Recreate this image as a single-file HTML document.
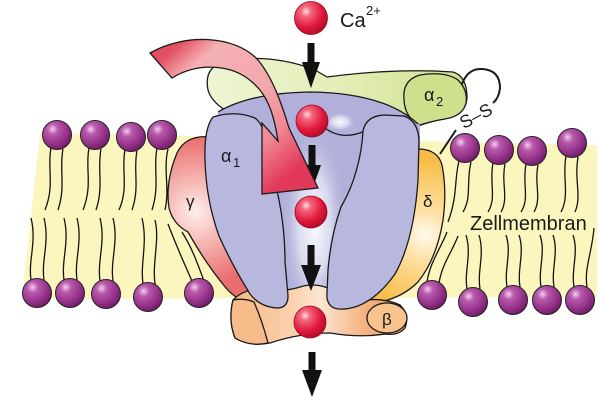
<!DOCTYPE html>
<html><head><meta charset="utf-8"><style>
html,body{margin:0;padding:0;background:#fff;width:600px;height:400px;overflow:hidden}
svg{display:block}
text{font-family:"Liberation Sans",sans-serif;fill:#1a1a1a}
</style></head><body>
<svg width="600" height="400" viewBox="0 0 600 400" xmlns="http://www.w3.org/2000/svg">
<defs>
<radialGradient id="hd" cx=".35" cy=".3" r=".75"><stop offset="0" stop-color="#f3cdef"/><stop offset=".25" stop-color="#b85aac"/><stop offset=".75" stop-color="#8e2b82"/><stop offset="1" stop-color="#6c1b63"/></radialGradient>
<radialGradient id="ca" cx=".35" cy=".3" r=".75"><stop offset="0" stop-color="#ffe0e5"/><stop offset=".2" stop-color="#f4687e"/><stop offset=".65" stop-color="#e0183c"/><stop offset="1" stop-color="#b00c28"/></radialGradient>
<linearGradient id="red" gradientUnits="userSpaceOnUse" x1="160" y1="60" x2="280" y2="195"><stop offset="0" stop-color="#e24e60"/><stop offset=".15" stop-color="#f4b0b2"/><stop offset=".5" stop-color="#f3a8ac"/><stop offset=".72" stop-color="#f08a94"/><stop offset=".95" stop-color="#e2385a"/></linearGradient>
<linearGradient id="grn" gradientUnits="userSpaceOnUse" x1="205" y1="0" x2="470" y2="0"><stop offset="0" stop-color="#eef5d4"/><stop offset=".5" stop-color="#e3eeb8"/><stop offset="1" stop-color="#cfe08c"/></linearGradient>
<radialGradient id="gam" gradientUnits="userSpaceOnUse" cx="196" cy="212" r="75"><stop offset="0" stop-color="#fdf0ee"/><stop offset=".35" stop-color="#f7c0bb"/><stop offset="1" stop-color="#ea6d70"/></radialGradient>
<radialGradient id="del" gradientUnits="userSpaceOnUse" cx="425" cy="235" r="75"><stop offset="0" stop-color="#fffaf0"/><stop offset=".35" stop-color="#fde0a0"/><stop offset="1" stop-color="#f8bd48"/></radialGradient>
<linearGradient id="org" gradientUnits="userSpaceOnUse" x1="230" y1="0" x2="410" y2="0"><stop offset="0" stop-color="#f6b883"/><stop offset=".35" stop-color="#fbd2ae"/><stop offset=".5" stop-color="#fde6d2"/><stop offset=".75" stop-color="#f6b27f"/><stop offset="1" stop-color="#ef9b62"/></linearGradient>
<radialGradient id="hl" cx=".5" cy=".5" r=".5"><stop offset="0" stop-color="#fafaff" stop-opacity="1"/><stop offset=".5" stop-color="#e6e6f5" stop-opacity=".8"/><stop offset="1" stop-color="#b4b4dc" stop-opacity="0"/></radialGradient>
</defs>

<path d="M40,133 L597,145 L597,297 L22,299 Z" fill="#faf6bd"/>

<g fill="none" stroke="#141414" stroke-width="1.3">
<path d="M51,148 C47,168 55,185 45,210"/><path d="M63,149 C59,170 66,186 58,210"/>
<path d="M89,148 C85,168 93,185 83,210"/><path d="M101,149 C97,170 104,186 96,210"/>
<path d="M125,150 C121,170 129,187 119,210"/><path d="M137,151 C133,170 140,187 132,210"/>
<path d="M157,148 C153,168 160,185 152,210"/><path d="M168,149 C163,170 170,188 165,210"/>
<path d="M31,280 C28,260 37,242 31,218"/><path d="M44,280 C41,260 50,242 44,218"/>
<path d="M64,280 C61,260 70,242 64,218"/><path d="M77,280 C74,260 83,242 77,218"/>
<path d="M100,281 C97,260 106,242 100,218"/><path d="M113,281 C110,260 119,242 113,218"/>
<path d="M143,284 C140,262 148,244 142,218"/><path d="M155,284 C152,262 160,240 155,220"/>
<path d="M192,281 C185,265 178,250 168,224"/><path d="M204,281 C197,262 192,248 182,232"/>
<path d="M459,161 C454,180 458,195 448,222"/><path d="M471,162 C466,182 472,197 463,212"/>
<path d="M493,163 C489,183 497,197 488,212"/><path d="M505,164 C501,184 509,198 501,212"/>
<path d="M526,164 C522,184 530,198 521,212"/><path d="M538,165 C534,184 542,198 534,212"/>
<path d="M566,156 C562,178 570,195 561,212"/><path d="M578,157 C574,180 582,196 575,212"/>
<path d="M427,282 C430,262 440,250 447,232"/><path d="M439,283 C442,264 452,252 458,236"/>
<path d="M467,289 C464,270 472,255 466,235"/><path d="M480,289 C477,270 485,255 479,235"/>
<path d="M507,287 C504,268 512,253 506,235"/><path d="M520,287 C517,268 525,253 519,235"/>
<path d="M541,287 C538,268 546,253 540,235"/><path d="M554,287 C551,268 559,253 553,235"/>
<path d="M574,287 C571,268 579,253 573,235"/><path d="M587,287 C584,268 592,253 594,228"/>
</g>

<g fill="url(#hd)" stroke="#222" stroke-width="1">
<circle cx="57" cy="135" r="14.5"/><circle cx="95" cy="135" r="14.5"/><circle cx="131" cy="137" r="14.5"/><circle cx="162" cy="135" r="14.5"/>
<circle cx="37" cy="293" r="14.5"/><circle cx="70" cy="293" r="14.5"/><circle cx="106" cy="294" r="14.5"/><circle cx="148" cy="297" r="14.5"/><circle cx="199" cy="293" r="14.5"/>
<circle cx="465" cy="148" r="14.5"/><circle cx="499" cy="150" r="14.5"/><circle cx="532" cy="151" r="14.5"/><circle cx="572" cy="143" r="14.5"/>
<circle cx="432" cy="295" r="14.5"/><circle cx="473" cy="302" r="14.5"/><circle cx="513" cy="300" r="14.5"/><circle cx="547" cy="300" r="14.5"/><circle cx="580" cy="300" r="14.5"/>
</g>

<g stroke="#1a1a1a" stroke-width="1.3" stroke-linejoin="round">
<path d="M208,90 Q203,66 228,60 Q275,54 315,70 L327,77 Q395,68 453,72 Q467,76 467,98 Q466,114 447,118 Q432,121 418,126 L395,115 L225,110 Q211,101 208,90 Z" fill="url(#grn)"/>
<path d="M420,125 Q405,118 404,100 Q402,80 420,75 Q445,71 458,80 Q468,90 466,103 Q463,116 445,119 Q432,121 420,125 Z" fill="#cfe08c"/>

<path d="M440,154 L456,130" fill="none" stroke-width="2"/>
<path d="M462,84 Q468,68 482,69 Q500,70 500,88 Q499,98 493,103" fill="none" stroke-width="2"/>

<path d="M218,112 Q250,93 310,92 Q385,93 420,125 L420,200 L330,305 L288,305 L210,200 Z" fill="#b0b0da" stroke="none"/>
<path d="M218,112 Q250,93 310,92 Q385,93 418,124" fill="none"/>
</g>
<ellipse cx="314" cy="225" rx="32" ry="100" fill="url(#hl)"/>
<ellipse cx="340" cy="122" rx="16" ry="10" fill="url(#hl)"/>

<g stroke="#1a1a1a" stroke-width="1.3" stroke-linejoin="round">
<path d="M325,128 Q342,141 365,131" fill="none"/>
<path d="M212,137 Q186,134 177,153 Q165,182 169,208 Q173,224 188,232 Q206,264 226,288 Q240,304 257,303 L262,250 L220,137 Z" fill="url(#gam)"/>
<path d="M405,150 L420,149 Q438,150 442,165 Q447,190 443,220 Q437,258 418,282 Q398,302 365,304 L350,290 Z" fill="url(#del)"/>
<path d="M233,300 Q245,288 262,290 Q285,292 300,287 Q312,283 325,287 Q345,295 365,300 Q385,298 400,305 Q410,315 405,328 Q398,336 385,334 Q360,338 330,333 Q300,333 270,343 Q250,347 235,338 Q228,320 233,300 Z" fill="url(#org)"/>
<path d="M233,300 Q245,298 254,302 Q262,320 268,343 Q250,347 235,338 Q228,320 233,300 Z" fill="#f6bb88"/>
<ellipse cx="387" cy="318" rx="20" ry="15" fill="#f8c48e"/>
<path d="M213,117 Q235,110 255,118 Q263,124 266,140 L279,200 Q285,230 285,262 L288,296 Q288,308 277,308 Q260,307 250,294 Q232,265 219,236 Q206,200 205,160 Q204,128 213,117 Z" fill="#b8b8de"/>
<path d="M363,131 Q366,116 384,115 L404,116 Q418,121 419,140 L418,180 Q414,240 395,274 Q378,298 358,306 Q343,311 334,308 Q326,304 327,293 L328,270 Q331,235 341,207 Q352,188 357,168 Q362,150 363,131 Z" fill="#b8b8de"/>
</g>

<g fill="url(#ca)" stroke="#9a0a22" stroke-width=".8">
<circle cx="311" cy="18" r="16.5"/>
<circle cx="312" cy="121" r="16"/>
<circle cx="311" cy="212" r="16"/>
<circle cx="310" cy="322" r="16"/>
</g>

<g fill="#111">
<rect x="307.5" y="43" width="7" height="20"/><polygon points="302,62 320,62 311,88"/>
<rect x="308.5" y="145" width="7" height="21"/><polygon points="303,165 321,165 312,190"/>
<rect x="307.5" y="245" width="7" height="21"/><polygon points="301,265 321,265 311,291"/>
<rect x="308.5" y="352" width="7" height="19"/><polygon points="302,370 322,370 312,397"/>
</g>

<path d="M150,53 C185,33 235,35 258,60 C273,78 282,105 289,128 L318,188 L262,194 L262,123 L278,141 C274,115 268,95 252,82 C232,64 198,62 172,78 Z" fill="url(#red)" stroke="#1a1a1a" stroke-width="1.3" stroke-linejoin="miter"/>

<text x="340" y="27" font-size="20">Ca</text>
<text x="366" y="15" font-size="13">2+</text>
<text x="221" y="162" font-size="18">α</text><text x="233" y="167" font-size="13">1</text>
<text x="424" y="101" font-size="18">α</text><text x="436" y="106" font-size="13">2</text>
<text x="186" y="207" font-size="17">γ</text>
<text x="423" y="207" font-size="17">δ</text>
<text x="382" y="325" font-size="17">β</text>
<text x="470" y="230" font-size="20">Zellmembran</text>
<text x="476" y="122" font-size="18" text-anchor="middle" transform="rotate(-28 476 116)">S–S</text>
</svg>
</body></html>
